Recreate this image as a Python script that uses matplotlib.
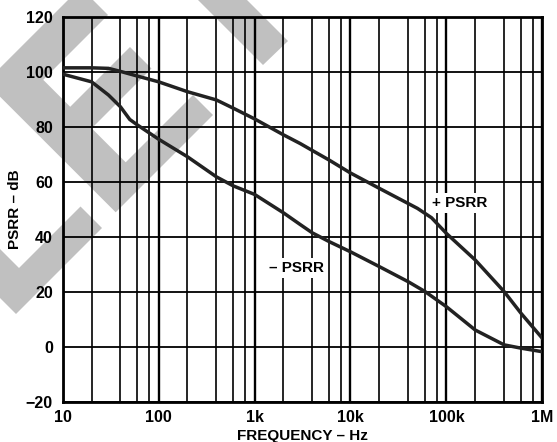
import matplotlib
matplotlib.use("Agg")
import matplotlib.pyplot as plt
from matplotlib.patches import Polygon
from matplotlib.ticker import FixedLocator, LogLocator, NullFormatter

# +PSRR curve (Hz, dB)
pos_freq = [10, 20, 30, 40, 60, 100, 200, 400, 600, 1e3, 2e3, 3e3, 4e3, 6e3,
            1e4, 2e4, 5e4, 7e4, 1e5, 2e5, 4e5, 6e5, 1e6]
pos_db = [101.6, 101.6, 101.4, 100.3, 98.6, 96.5, 92.9, 89.9, 86.9, 83.0,
          77.2, 74.0, 71.5, 68.0, 63.3, 57.7, 50.4, 47.0, 41.3, 31.6, 20.1,
          12.2, 3.1]

# -PSRR curve (Hz, dB)
neg_freq = [10, 20, 30, 40, 50, 60, 100, 200, 400, 600, 1e3, 2e3, 3e3, 4e3,
            6e3, 1e4, 2e4, 4e4, 6e4, 1e5, 2e5, 4e5, 6e5, 1e6]
neg_db = [99.3, 96.5, 91.7, 87.4, 82.8, 80.8, 75.6, 69.2, 61.9, 58.6, 55.5,
          48.8, 44.5, 41.5, 38.3, 34.6, 29.2, 23.7, 20.1, 14.6, 6.1, 0.7,
          -0.5, -1.8]

x_ticks = [10, 100, 1e3, 1e4, 1e5, 1e6]
x_labels = ["10", "100", "1k", "10k", "100k", "1M"]
y_ticks = [-20, 0, 20, 40, 60, 80, 100, 120]

W, H = 557, 442

# watermark shapes, pixel coords from top-left of the image
wm_letter_e = [(-14.4, 82.3), (80.5, -12.5), (108, 15), (43.2, 79.8),
               (70.2, 106.8), (130, 47), (151.5, 68.5), (91.7, 128.3),
               (125.7, 162.3), (193, 95), (213, 115), (115.7, 212.3)]
wm_vee = [(-20, 229), (19, 268), (80.5, 206.5), (102, 228), (16, 314),
          (-20, 278)]
wm_bar = [(190, -8), (263, 65), (288, 41), (239, -8)]

plt.rcParams['font.family'] = ['Liberation Sans', 'DejaVu Sans']
plt.rcParams['font.weight'] = 'bold'

fig = plt.figure(figsize=(W / 100, H / 100), dpi=100)

for pts in (wm_letter_e, wm_vee, wm_bar):
    poly = Polygon([(x / W, 1 - y / H) for x, y in pts], closed=True,
                   transform=fig.transFigure, facecolor='#c0c0c0',
                   edgecolor='none', zorder=-5)
    fig.patches.append(poly)

left, right, top, bottom = 62.7, 542.3, 17.3, 401.7
ax = fig.add_axes([left / W, 1 - bottom / H, (right - left) / W,
                   (bottom - top) / H])
ax.set_facecolor('none')

ax.set_xscale('log')
ax.set_xlim(10, 1e6)
ax.set_ylim(-20, 120)

ax.xaxis.set_major_locator(FixedLocator(x_ticks))
ax.set_xticklabels(x_labels)
ax.xaxis.set_minor_locator(LogLocator(base=10, subs=[2, 4, 6, 8]))
ax.xaxis.set_minor_formatter(NullFormatter())
ax.set_yticks(y_ticks)

ax.grid(True, which='major', axis='x', color='black', lw=1.7)
ax.grid(True, which='minor', axis='x', color='black', lw=1.2)
ax.grid(True, which='major', axis='y', color='black', lw=1.3)
ax.set_axisbelow(True)

ax.tick_params(which='both', length=0)
ax.tick_params(axis='x', pad=6, labelsize=11.5)
ax.tick_params(axis='y', pad=7, labelsize=11.5)
for s in ax.spines.values():
    s.set_linewidth(2.0)

ax.plot(pos_freq, pos_db, color='#222222', lw=2.5, zorder=3)
ax.plot(neg_freq, neg_db, color='#222222', lw=2.5, zorder=3)

box = dict(facecolor='white', edgecolor='none', pad=2)
ax.text(1.39e5, 52.4, "+ PSRR", ha='center', va='center', fontsize=11,
        fontweight='bold', bbox=box, zorder=4)
ax.text(2.77e3, 28.7, "\u2013 PSRR", ha='center', va='center', fontsize=11,
        fontweight='bold', bbox=box, zorder=4)

ax.set_xlabel("FREQUENCY \u2013 Hz", fontsize=11, fontweight='bold', labelpad=3)
ax.set_ylabel("PSRR \u2013 dB", fontsize=11, fontweight='bold', labelpad=3)

fig.savefig("out.png", dpi=100)
